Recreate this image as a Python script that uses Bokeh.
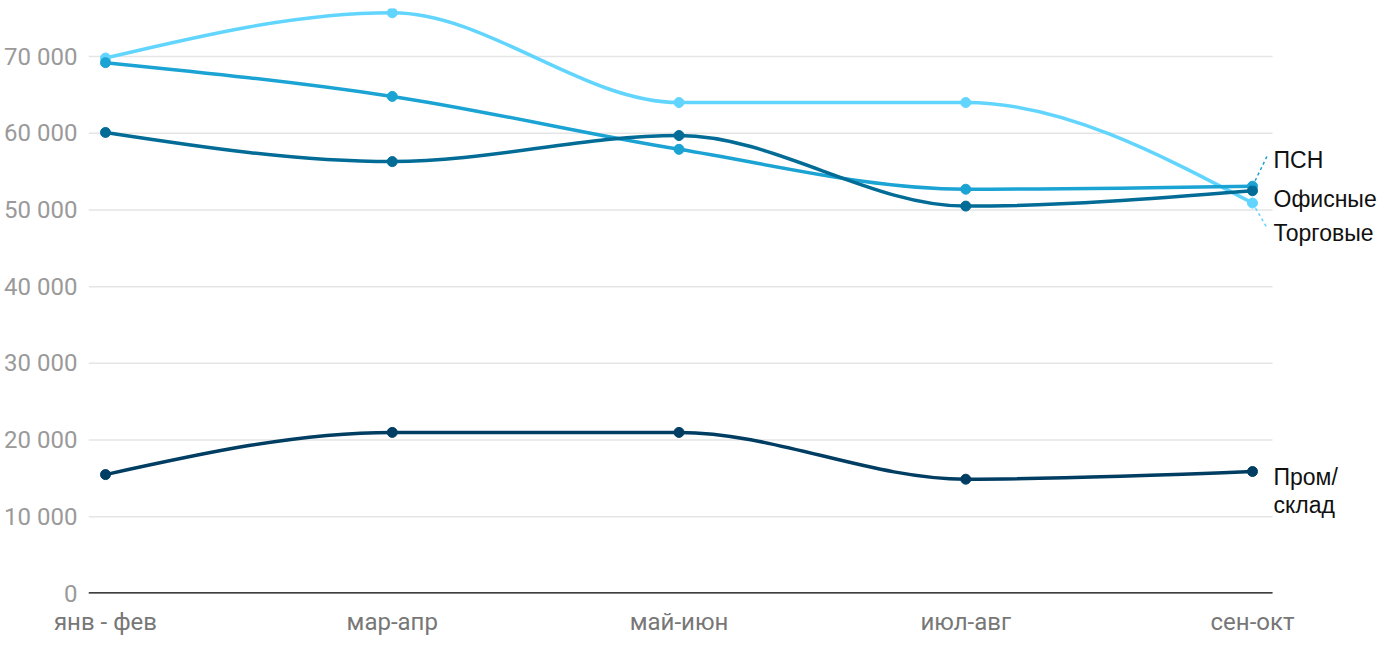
import numpy as np
from bokeh.plotting import figure
from bokeh.models import FixedTicker, Range1d
from bokeh.core.properties import value
from bokeh.embed import file_html
from bokeh.resources import INLINE

categories = ["янв - фев", "мар-апр", "май-июн", "июл-авг", "сен-окт"]
torgovye = [69800, 75700, 64000, 64000, 50900]
psn = [69200, 64800, 57900, 52700, 53100]
ofisnye = [60100, 56300, 59700, 50500, 52500]
prom = [15500, 21000, 21000, 14900, 15900]
y_ticks = [0, 10000, 20000, 30000, 40000, 50000, 60000, 70000]
y_tick_labels = ["0", "10 000", "20 000", "30 000", "40 000", "50 000", "60 000", "70 000"]

series = [
    ("Торговые", torgovye, "#62d5ff"),
    ("ПСН", psn, "#1ba3d3"),
    ("Офисные", ofisnye, "#026c97"),
    ("Пром/склад", prom, "#003d63"),
]


def monotone_beziers(xs, ys):
    xs = np.asarray(xs, float)
    ys = np.asarray(ys, float)
    n = len(xs)
    h = np.diff(xs)
    s = np.diff(ys) / h
    t = np.zeros(n)
    for i in range(1, n - 1):
        h0, h1 = h[i - 1], h[i]
        s0, s1 = s[i - 1], s[i]
        p = (s0 * h1 + s1 * h0) / (h0 + h1)
        t[i] = (np.sign(s0) + np.sign(s1)) * min(abs(s0), abs(s1), 0.5 * abs(p))
    t[0] = (3 * s[0] - t[1]) / 2
    t[-1] = (3 * s[-1] - t[-2]) / 2
    out = dict(x0=[], y0=[], x1=[], y1=[], cx0=[], cy0=[], cx1=[], cy1=[])
    for i in range(n - 1):
        dx = (xs[i + 1] - xs[i]) / 3
        out["x0"].append(xs[i]); out["y0"].append(ys[i])
        out["x1"].append(xs[i + 1]); out["y1"].append(ys[i + 1])
        out["cx0"].append(xs[i] + dx); out["cy0"].append(ys[i] + dx * t[i])
        out["cx1"].append(xs[i + 1] - dx); out["cy1"].append(ys[i + 1] - dx * t[i + 1])
    return out


xidx = list(range(len(categories)))
x_lo, x_hi = -0.0593, 4.07

p = figure(width=1395, height=643, output_backend="svg", toolbar_location=None,
           x_range=Range1d(x_lo, 4.4987), y_range=Range1d(0, 76260),
           min_border_left=88, min_border_right=0, min_border_top=8, min_border_bottom=50)
p.outline_line_color = None
p.background_fill_color = "white"
p.xgrid.visible = False
p.ygrid.visible = False

# gridlines limited to plot area
grid_vals = y_ticks[1:]
p.segment(x0=[x_lo] * len(grid_vals), x1=[x_hi] * len(grid_vals), y0=grid_vals, y1=grid_vals,
          line_color="#e5e5e5", line_width=1.5)
# baseline
p.segment(x0=[x_lo], x1=[x_hi], y0=[0], y1=[0], line_color="#000000", line_width=2.5)

p.yaxis.ticker = FixedTicker(ticks=y_ticks)
p.yaxis.major_label_overrides = {v: l for v, l in zip(y_ticks, y_tick_labels)}
p.yaxis.axis_line_color = None
p.yaxis.major_tick_line_color = None
p.yaxis.minor_tick_line_color = None
p.yaxis.major_label_standoff = 5
p.yaxis.major_label_text_font = "Roboto"
p.yaxis.major_label_text_font_size = "24px"
p.yaxis.major_label_text_color = "#9a9a9a"

p.xaxis.ticker = FixedTicker(ticks=xidx)
p.xaxis.major_label_overrides = {i: c for i, c in zip(xidx, categories)}
p.xaxis.axis_line_color = None
p.xaxis.major_tick_line_color = None
p.xaxis.minor_tick_line_color = None
p.xaxis.major_label_standoff = 8
p.xaxis.major_label_text_font = "Roboto"
p.xaxis.major_label_text_font_size = "24px"
p.xaxis.major_label_text_color = "#777777"

for name, vals, color in series:
    b = monotone_beziers(xidx, vals)
    p.bezier(x0=b["x0"], y0=b["y0"], x1=b["x1"], y1=b["y1"],
             cx0=b["cx0"], cy0=b["cy0"], cx1=b["cx1"], cy1=b["cy1"],
             line_color=color, line_width=3.5)
    p.scatter(xidx, vals, size=10, fill_color=color, line_color=color)

last = len(categories) - 1

# dashed connectors
p.segment(x0=[last, last], y0=[psn[-1], torgovye[-1]],
          x1=[last + 0.052, last + 0.052], y1=[57100, 47580],
          line_color=["#1ba3d3", "#62d5ff"], line_width=1.5, line_dash="3 3")

lab_text = ["ПСН", "Офисные", "Торговые", "Пром/", "склад"]
lab_y = [psn[-1], ofisnye[-1], torgovye[-1], prom[-1], prom[-1]]
lab_dy = [26, -8, -30, -5, -33]
p.text(x=[last] * 5, y=lab_y, text=lab_text, x_offset=21, y_offset=[-d for d in lab_dy],
       text_font=value("Liberation Sans"), text_font_size="23px", text_color="#111111",
       text_baseline="middle", text_align="left")

open("out.html", "w").write(file_html(p, INLINE))
